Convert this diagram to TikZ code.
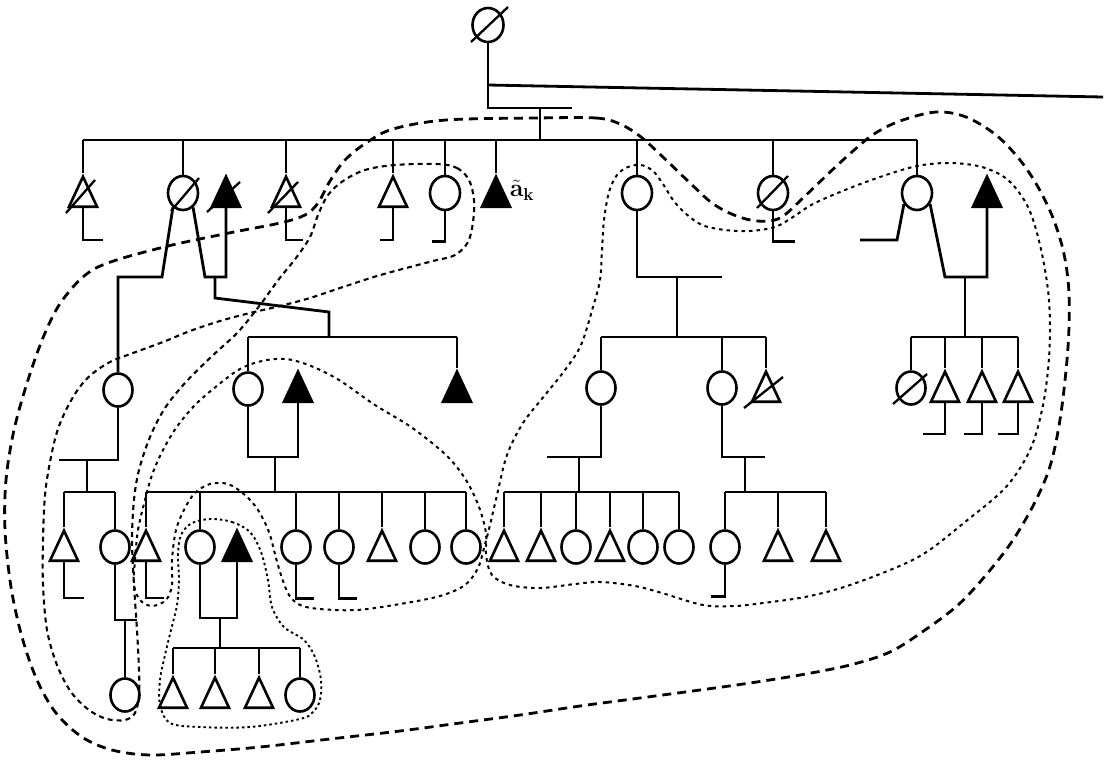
\documentclass[tikz,border=0pt]{standalone}
\usetikzlibrary{shapes.geometric}
\begin{document}
\begin{tikzpicture}[x=1pt,y=-1pt,
  ped/.style={line width=2.8pt},
  fem/.style={draw, ellipse, line width=2.6pt, minimum width=29pt, minimum height=33pt, inner sep=0pt},
  femII/.style={fem, minimum width=30pt, minimum height=34pt},
  mal/.style={draw, isosceles triangle, isosceles triangle stretches, shape border rotate=90,
              minimum width=28pt, minimum height=30pt, inner sep=0pt, line width=2.6pt, anchor=south},
  malf/.style={mal, fill=black},
  dec/.style={line width=2.3pt},
  curveA/.style={line width=2.8pt, dash pattern=on 9pt off 6pt},
  curveB/.style={line width=2.1pt, dash pattern=on 5pt off 4pt},
  curveC/.style={line width=2pt, dash pattern=on 3.5pt off 4pt},
  curveE/.style={line width=1.9pt, dash pattern=on 2.5pt off 3pt}]
\useasboundingbox (0,0) rectangle (1115,761);

% ---------- Generation I
\node[fem, minimum width=31pt, minimum height=34pt] (I1) at (488,25) {};
\draw[dec] ([shift={(-17,17)}]I1.center) -- ([shift={(20,-18)}]I1.center);

% ---------- Generation II
\node[mal]   (a1)  at (83,208) {};
\node[femII] (a2)  at (183,193) {};
\node[malf]  (a3)  at (226,208) {};
\node[mal]   (a4)  at (286,208) {};
\node[mal]   (a5)  at (393,208) {};
\node[femII] (a6)  at (445,193) {};
\node[malf]  (a7)  at (496,208) {};
\node[femII] (a8)  at (637,193) {};
\node[femII] (a9)  at (773,193) {};
\node[femII] (a10) at (917,193) {};
\node[malf]  (a11) at (987,208) {};
\node[font=\fontsize{26}{26}\selectfont, inner sep=0pt] (lab) at (522,190) {$\tilde{\mathbf{a}}_{\mathbf{k}}$};

\draw[dec] ([shift={(-17,5)}]a1.south) -- ([shift={(12,-28)}]a1.south);
\draw[dec] ([shift={(-12,18)}]a2.center) -- ([shift={(16,-15)}]a2.center);
\draw[dec] ([shift={(-19,4)}]a3.south) -- ([shift={(14,-26)}]a3.south);
\draw[dec] ([shift={(-18,5)}]a4.south) -- ([shift={(12,-26)}]a4.south);
\draw[dec] ([shift={(-16,15)}]a9.center) -- ([shift={(15,-17)}]a9.center);

% ---------- Generation III
\node[fem]  (b1)  at (118,390) {};
\node[fem]  (b2)  at (248,389) {};
\node[malf] (b3)  at (298,403) {};
\node[malf] (b4)  at (457,403) {};
\node[fem]  (b5)  at (601,388) {};
\node[fem]  (b6)  at (722,388) {};
\node[mal]  (b7)  at (766,403) {};
\node[fem]  (b8)  at (911,388) {};
\node[mal]  (b9)  at (945,403) {};
\node[mal]  (b10) at (982,403) {};
\node[mal]  (b11) at (1018,403) {};
\draw[dec] ([shift={(-22,5)}]b7.south) -- ([shift={(17,-26)}]b7.south);
\draw[dec] ([shift={(-18,16)}]b8.center) -- ([shift={(16,-14)}]b8.center);

% ---------- Generation IV
\node[mal]  (c1)  at (64,562) {};
\node[fem]  (c2)  at (115,547) {};
\node[mal]  (c3)  at (146,562) {};
\node[fem]  (c4)  at (200,547) {};
\node[malf] (c5)  at (237,562) {};
\node[fem]  (c6)  at (296,547) {};
\node[fem]  (c7)  at (339,547) {};
\node[mal]  (c8)  at (382,562) {};
\node[fem]  (c9)  at (425,547) {};
\node[fem]  (c10) at (466,547) {};
\node[mal]  (c11) at (504,562) {};
\node[mal]  (c12) at (541,562) {};
\node[fem]  (c13) at (576,547) {};
\node[mal]  (c14) at (610,562) {};
\node[fem]  (c15) at (643,547) {};
\node[fem]  (c16) at (679,547) {};
\node[fem]  (c17) at (725,547) {};
\node[mal]  (c18) at (778,562) {};
\node[mal]  (c19) at (826,562) {};

% ---------- Generation V
\node[fem] (d1) at (125,695) {};
\node[mal] (d2) at (173,709) {};
\node[mal] (d3) at (215,709) {};
\node[mal] (d4) at (259,709) {};
\node[fem] (d5) at (300,695) {};

% ---------- level coordinates
\coordinate (yLong) at (0,85);
\coordinate (longEnd) at (1103,97);
\coordinate (mI) at (488,108);
\coordinate (mIend) at (572,108);
\coordinate (dI) at (540,108);
\coordinate (sII) at (0,140);
\coordinate (sIII) at (0,337);
\coordinate (mIII) at (0,457);
\coordinate (sIV) at (0,492);
\coordinate (mIV) at (0,618);
\coordinate (sV) at (0,648);

% ---------- Gen I lines
\draw[ped] (I1.south) -- (mI) -- (mIend);
\draw[ped] (I1.south |- yLong) -- (longEnd);
\draw[ped] (dI) -- (dI |- sII);

% ---------- Gen II sibship
\draw[ped] (a1.apex |- sII) -- (a10.north |- sII);
\foreach \n in {a1,a4,a5,a7} \draw[ped] (\n.apex) -- (\n.apex |- sII);
\foreach \n in {a2,a6,a8,a9,a10} \draw[ped] (\n.north) -- (\n.north |- sII);

% stubs gen II
\draw[ped] (a1.south) -- ++(0,32) -- ++(20,0);
\draw[ped] (a4.south) -- ++(0,32) -- ++(17,0);
\draw[ped] (a5.south) -- ++(0,32) -- ++(-13,0);
\draw[ped] (a6.south) -- ++(0,30) -- ++(-13,0);
\draw[ped] (a9.south) -- ++(0,30) -- ++(22,0);

% a2 - a3
\coordinate (k1) at (162,277);
\coordinate (k2) at (205,277);
\coordinate (k3) at (215,277);
\coordinate (k4) at (215,298);
\coordinate (k5) at (329,312);
\draw[ped] (a2.-125) -- (k1) -| (b1.north);
\draw[ped] (a2.-55) -- (k2) -| (a3.south);
\draw[ped] (k3) -- (k4) -- (k5) -- (k5 |- sIII);

% a8
\coordinate (k6) at (722,277);
\coordinate (k7) at (677,277);
\draw[ped] (a8.south) |- (k6);
\draw[ped] (k7) -- (k7 |- sIII);

% a10 - a11
\coordinate (k8) at (897,240);
\coordinate (k9) at (860,240);
\coordinate (k10) at (945,277);
\coordinate (k11) at (965,277);
\draw[ped] (a10.-140) -- (k8) -- (k9);
\draw[ped] (a10.-40) -- (k10) -| (a11.south);
\draw[ped] (k11) -- (k11 |- sIII);

% ---------- Gen III sibships
\draw[ped] (b2.north |- sIII) -- (b4.apex |- sIII);
\draw[ped] (b2.north) -- (b2.north |- sIII);
\draw[ped] (b4.apex) -- (b4.apex |- sIII);
\draw[ped] (b5.north |- sIII) -- (b7.apex |- sIII);
\foreach \n in {b5,b6} \draw[ped] (\n.north) -- (\n.north |- sIII);
\draw[ped] (b7.apex) -- (b7.apex |- sIII);
\draw[ped] (b8.north |- sIII) -- (b11.apex |- sIII);
\draw[ped] (b8.north) -- (b8.north |- sIII);
\foreach \n in {b9,b10,b11} \draw[ped] (\n.apex) -- (\n.apex |- sIII);
\draw[ped] (b9.south) -- ++(0,31) -- ++(-22,0);
\draw[ped] (b10.south) -- ++(0,31) -- ++(-18,0);
\draw[ped] (b11.south) -- ++(0,31) -- ++(-20,0);

% b1
\coordinate (k12) at (59,460);
\coordinate (k13) at (87,460);
\draw[ped] (b1.south) |- (k12);
\draw[ped] (k13) -- (k13 |- sIV);
% b2 - b3
\coordinate (k14) at (275,457);
\draw[ped] (b2.south) |- (b3.south |- mIII) -- (b3.south);
\draw[ped] (k14) -- (k14 |- sIV);
% b5
\coordinate (k15) at (547,457);
\coordinate (k16) at (579,457);
\draw[ped] (b5.south) |- (k15);
\draw[ped] (k16) -- (k16 |- sIV);
% b6
\coordinate (k17) at (765,457);
\coordinate (k18) at (745,457);
\draw[ped] (b6.south) |- (k17);
\draw[ped] (k18) -- (k18 |- sIV);

% ---------- Gen IV sibships
\draw[ped] (c1.apex |- sIV) -- (c2.north |- sIV);
\draw[ped] (c1.apex) -- (c1.apex |- sIV);
\draw[ped] (c2.north) -- (c2.north |- sIV);
\draw[ped] (c3.apex |- sIV) -- (c10.north |- sIV);
\foreach \n in {c3,c8} \draw[ped] (\n.apex) -- (\n.apex |- sIV);
\foreach \n in {c4,c6,c7,c9,c10} \draw[ped] (\n.north) -- (\n.north |- sIV);
\draw[ped] (c11.apex |- sIV) -- (c16.north |- sIV);
\foreach \n in {c11,c12,c14} \draw[ped] (\n.apex) -- (\n.apex |- sIV);
\foreach \n in {c13,c15,c16} \draw[ped] (\n.north) -- (\n.north |- sIV);
\draw[ped] (c17.north |- sIV) -- (c19.apex |- sIV);
\draw[ped] (c17.north) -- (c17.north |- sIV);
\foreach \n in {c18,c19} \draw[ped] (\n.apex) -- (\n.apex |- sIV);

% stubs gen IV
\draw[ped] (c1.south) -- ++(0,36) -- ++(20,0);
\draw[ped] (c3.south) -- ++(0,36) -- ++(18,0);
\draw[ped] (c6.south) -- ++(0,34) -- ++(18,0);
\draw[ped] (c7.south) -- ++(0,34) -- ++(18,0);
\draw[ped] (c17.south) -- ++(0,32) -- ++(-14,0);

% c2
\coordinate (k19) at (137,620);
\coordinate (k20) at (125,620);
\draw[ped] (c2.south) |- (k19);
\draw[ped] (k20) -- (d1.north);
% c4 - c5
\coordinate (k22) at (220,618);
\draw[ped] (c4.south) |- (c5.south |- mIV) -- (c5.south);
\draw[ped] (k22) -- (k22 |- sV);

% ---------- Gen V sibship
\draw[ped] (d2.apex |- sV) -- (d5.north |- sV);
\foreach \n in {d2,d3,d4} \draw[ped] (\n.apex) -- (\n.apex |- sV);
\draw[ped] (d5.north) -- (d5.north |- sV);

% ---------- enclosing curves
\draw[curveA] plot[smooth cycle, tension=0.55] coordinates {
(536,118) (596,118) (620,124) (641,137) (665,159) (689,182) (712,203) (734,215) (757,221) (780,218)
(804,197) (829,173) (853,151) (874,134) (900,121) (936,112) (966,117) (996,135) (1020,160) (1038,187)
(1053,218) (1064,254) (1069,294) (1068,347) (1061,413) (1051,463) (1036,500) (1013,540) (986,575)
(958,605) (925,630) (890,652) (850,665) (800,675) (750,683) (700,690) (640,698) (580,706) (520,715)
(460,723) (400,731) (330,739) (260,747) (200,752) (150,755) (112,750) (82,737) (56,713) (37,680)
(22,637) (11,587) (5,530) (6,480) (14,430) (28,380) (45,333) (64,298) (96,268) (160,248) (229,233)
(280,223) (305,215) (318,203) (330,181) (345,160) (366,143) (393,129) (446,120)};

\draw[curveB] plot[smooth cycle, tension=0.55] coordinates {
(437,164) (457,168) (469,180) (474,200) (473,222) (468,242) (455,255) (433,261) (410,267) (377,276)
(343,287) (310,298) (280,306) (250,313) (220,321) (190,331) (163,342) (133,353) (110,362) (92,374)
(79,388) (67,408) (57,432) (50,462) (45,495) (43,540) (43,585) (47,630) (57,665) (71,692) (89,710)
(107,719) (125,720) (135,713) (139,695) (139,670) (137,630) (134,585) (132,540) (134,500) (139,470)
(150,437) (165,408) (185,383) (210,358) (238,332) (260,305) (279,279) (296,258) (310,237) (318,215)
(328,195) (343,181) (365,170) (395,165)};

\draw[curveC] plot[smooth cycle, tension=0.55] coordinates {
(135,560) (138,530) (145,500) (152,475) (162,452) (176,428) (195,405) (218,385) (240,369) (262,361)
(286,359) (311,366) (339,380) (375,405) (411,427) (446,455) (466,480) (479,507) (486,533) (486,555)
(492,575) (510,585) (540,588) (575,584) (601,582) (635,586) (662,593) (703,605) (735,606) (763,603)
(805,597) (844,587) (890,570) (925,553) (965,522) (1006,487) (1030,450) (1042,410) (1048,370)
(1050,330) (1048,290) (1040,245) (1028,207) (1008,180) (982,167) (950,163) (917,166) (880,177)
(845,190) (813,204) (793,217) (775,227) (750,231) (725,230) (702,225) (685,213) (673,200) (663,184)
(653,171) (641,165) (628,167) (617,175) (609,192) (604,220) (602,250) (600,280) (593,307) (581,345)
(565,370) (545,395) (523,423) (507,455) (497,495) (490,525) (484,548) (478,568) (465,585) (440,596)
(400,604) (357,610) (320,609) (300,605) (289,595) (282,578) (276,558) (269,532) (258,510) (245,495)
(228,484) (210,484) (195,493) (185,508) (176,530) (172,560) (172,585) (166,600) (152,606) (140,600)
(134,585)};

\draw[curveE] plot[smooth cycle, tension=0.55] coordinates {
(211,519) (232,522) (250,532) (261,552) (268,580) (272,607) (284,627) (304,640) (315,657) (321,680)
(320,700) (313,712) (300,719) (250,727) (200,727) (170,723) (160,705) (160,680) (165,655) (171,630)
(177,605) (179,580) (178,555) (181,535) (192,523)};
\end{tikzpicture}
\end{document}
